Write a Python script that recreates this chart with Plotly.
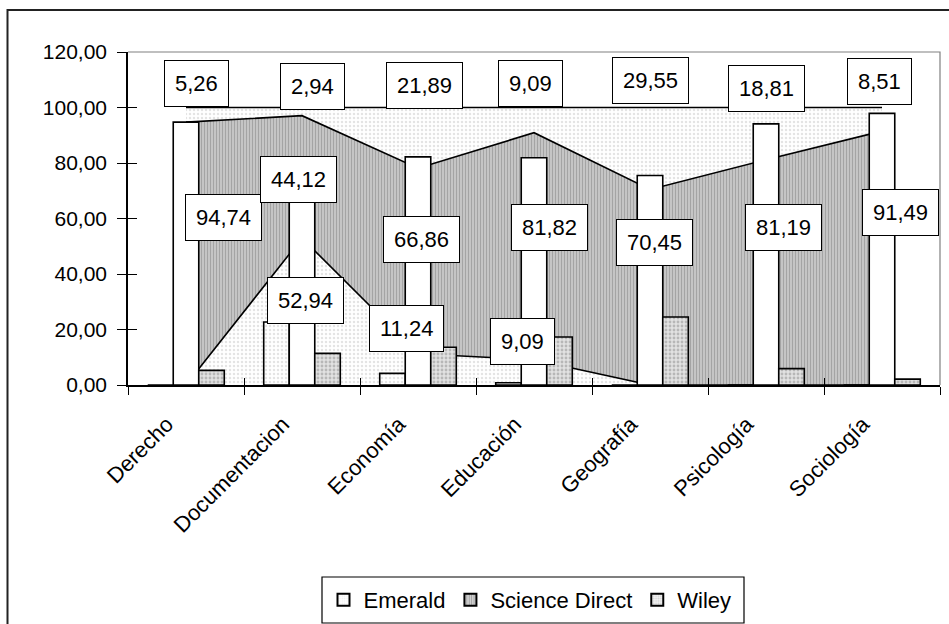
import plotly.graph_objects as go

# ---------------- data ----------------
categories = ["Derecho", "Documentacion", "Economía", "Educación",
              "Geografía", "Psicología", "Sociología"]

# stacked area series (percentages, labelled)
area_emerald = [0, 52.94, 11.24, 9.09, 0, 0, 0]
area_science = [94.74, 44.12, 66.86, 81.82, 70.45, 81.19, 91.49]
area_wiley = [5.26, 2.94, 21.89, 9.09, 29.55, 18.81, 8.51]

# clustered columns
bar_emerald = [0, 22.7, 4.2, 0.8, 0, 0, 0]
bar_science = [94.74, 65.9, 82.2, 81.9, 75.5, 94.1, 97.9]
bar_wiley = [5.26, 11.4, 13.6, 17.3, 24.5, 5.9, 2.1]

y_ticks = [0, 20, 40, 60, 80, 100, 120]

# label placement (layout only: x offset in category units, y in axis units)
pos_wiley = [(0.09, 108.5), (0.09, 107.7), (0.06, 108.1), (-0.03, 108.5),
             (0.0, 109.9), (0.0, 107.0), (-0.02, 109.2)]
pos_science = [(0.32, 60.2), (-0.03, 73.9), (0.03, 52.3), (0.13, 56.9),
               (0.04, 51.5), (0.15, 56.9), (0.16, 62.3)]
pos_emerald = [None, (0.03, 30.6), (-0.10, 20.5), (-0.10, 15.5), None, None, None]

FONT = "Liberation Sans, Arial, sans-serif"

light_dots = dict(shape=".", fgcolor="#c8c8c8", bgcolor="white", size=4, solidity=0.3)
dark_dots = dict(shape=".", fgcolor="#8c8c8c", bgcolor="#e2e2e2", size=4, solidity=0.4)
vlines = dict(shape="|", fgcolor="#7a7a7a", bgcolor="#cfcfcf", size=3, solidity=0.5)

fig = go.Figure()

# ---- stacked areas (bottom subplot) ----
for name, vals, pat in [("Emerald", area_emerald, light_dots),
                        ("Science Direct", area_science, vlines),
                        ("Wiley", area_wiley, light_dots)]:
    fig.add_trace(go.Scatter(
        x=categories, y=vals, stackgroup="a", mode="lines",
        line=dict(color="black", width=1.6), fillpattern=pat,
        fillcolor=pat["bgcolor"], showlegend=False, hoverinfo="skip",
        xaxis="x", yaxis="y"))

# ---- legend-only entries ----
for name, pat in [("Emerald", dict(shape=".", fgcolor="#dddddd", bgcolor="white", size=3, solidity=0.3)),
                  ("Science Direct", dict(shape="|", fgcolor="#6a6a6a", bgcolor="#d8d8d8", size=3, solidity=0.45)),
                  ("Wiley", dict(shape=".", fgcolor="#b0b0b0", bgcolor="#f2f2f2", size=3, solidity=0.4))]:
    fig.add_trace(go.Bar(
        x=[None], y=[None], name=name, xaxis="x", yaxis="y",
        marker=dict(color=pat["bgcolor"], pattern=pat,
                    line=dict(color="black", width=1)),
        showlegend=True))

# ---- clustered columns (overlay subplot, drawn above the areas) ----
for name, vals, marker in [
        ("Emerald", bar_emerald, dict(color="white", pattern=light_dots)),
        ("Science Direct", bar_science, dict(color="white")),
        ("Wiley", bar_wiley, dict(color="#e2e2e2", pattern=dark_dots))]:
    marker["line"] = dict(color="black", width=1.6)
    fig.add_trace(go.Bar(
        x=categories, y=vals, marker=marker, showlegend=False,
        hoverinfo="skip", xaxis="x2", yaxis="y"))

# invisible trace for the inner tick axes
fig.add_trace(go.Scatter(x=[0], y=[0], mode="markers", marker=dict(opacity=0),
                         showlegend=False, hoverinfo="skip", xaxis="x3", yaxis="y3"))


def fmt(v):
    return f"{v:.2f}".replace(".", ",")


annotations = []
for vals, positions in [(area_wiley, pos_wiley), (area_science, pos_science),
                        (area_emerald, pos_emerald)]:
    for i, (v, p) in enumerate(zip(vals, positions)):
        if p is None or v == 0:
            continue
        annotations.append(dict(
            x=i + p[0], y=p[1], xref="x", yref="y", text=fmt(v),
            showarrow=False, bgcolor="white", bordercolor="black",
            borderwidth=1, borderpad=10,
            font=dict(family=FONT, size=22, color="black")))

W, H = 949, 624
L, R, T, B = 128, 9, 52, 239
pw, ph = W - L - R, H - T - B


def px(xp):
    return (xp - L) / pw


def py(yp):
    return (H - B - yp) / ph


shapes = [
    # plot area top & right border (gray)
    dict(type="path", xref="paper", yref="paper",
         path="M 0,1 L 1,1 L 1,0", line=dict(color="#808080", width=1.2)),
    # chart outer border (left & top visible)
    dict(type="path", xref="paper", yref="paper",
         path=f"M {px(7.5)},{py(660)} L {px(7.5)},{py(10)} L {px(980)},{py(10)}",
         line=dict(color="#222222", width=2)),
    # legend frame
    dict(type="rect", xref="paper", yref="paper",
         x0=px(322), x1=px(744), y0=py(623), y1=py(577),
         line=dict(color="black", width=1.2), fillcolor="rgba(0,0,0,0)"),
]

fig.update_layout(
    width=W, height=H,
    margin=dict(l=L, r=R, t=T, b=B, autoexpand=False),
    paper_bgcolor="white", plot_bgcolor="white",
    separators=",.",
    barmode="group", bargap=0.34, bargroupgap=0,
    font=dict(family=FONT, size=20, color="black"),
    xaxis=dict(type="category", categoryarray=categories, categoryorder="array",
               range=[-0.5, 6.5], showline=True, linecolor="black", linewidth=1.5,
               ticks="outside", tickson="boundaries", ticklen=8, tickcolor="black",
               tickwidth=1, tickangle=-45, showgrid=False, zeroline=False,
               automargin=False, ticklabelstandoff=16, ticklabelshift=-19,
               tickfont=dict(family=FONT, size=22, color="black")),
    xaxis2=dict(type="category", categoryarray=categories, categoryorder="array",
                range=[-0.5, 6.5], overlaying="x", anchor="y", visible=False),
    xaxis3=dict(range=[-0.5, 6.5], overlaying="x", anchor="y3", side="bottom",
                tickvals=[-0.5, 0.5, 1.5, 2.5, 3.5, 4.5, 5.5, 6.5], ticks="inside",
                ticklen=7, tickcolor="black", showticklabels=False, showline=False,
                showgrid=False, zeroline=False, automargin=False),
    yaxis=dict(range=[0, 120], tickvals=y_ticks, tickformat=".2f",
               showline=True, linecolor="black", linewidth=1.5,
               ticks="outside", ticklen=9, tickcolor="black", tickwidth=1,
               showgrid=False, zeroline=False, ticklabelstandoff=6, automargin=False,
               tickfont=dict(family=FONT, size=21, color="black")),
    yaxis3=dict(range=[0, 120], overlaying="y", anchor="x3", side="left",
                tickvals=y_ticks, ticks="inside", ticklen=9, tickcolor="black",
                showticklabels=False, showline=False, showgrid=False, zeroline=False,
                automargin=False),
    legend=dict(orientation="h", x=px(530), xanchor="center", y=py(600), yanchor="middle",
                borderwidth=0, bgcolor="rgba(0,0,0,0)",
                font=dict(family=FONT, size=22, color="black"),
                itemsizing="constant", traceorder="normal"),
    annotations=annotations,
    shapes=shapes,
)

fig.write_html("out.html",
               config={"displayModeBar": False},
               post_script="document.body.style.margin='0px';document.body.style.overflow='hidden';")
